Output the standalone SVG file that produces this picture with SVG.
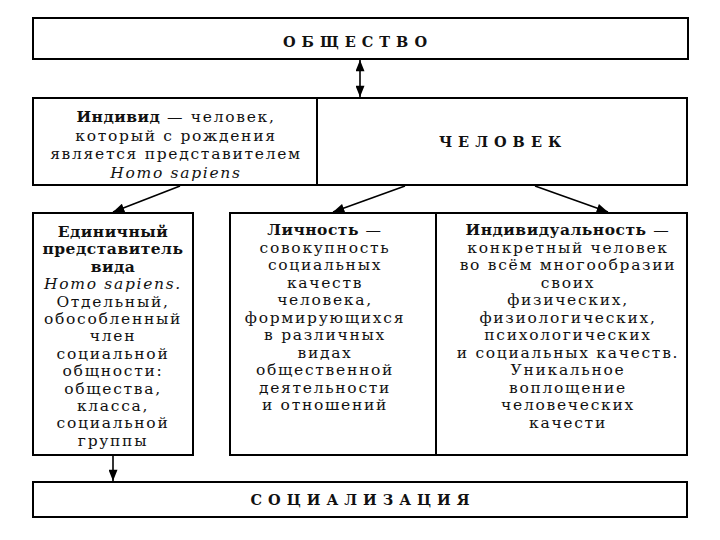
<svg xmlns="http://www.w3.org/2000/svg" width="720" height="540" viewBox="0 0 720 540">
<defs>
<marker id="ah" viewBox="0 0 10 8" refX="10" refY="4" markerWidth="12" markerHeight="9" markerUnits="userSpaceOnUse" orient="auto-start-reverse">
<path d="M0,0 L10,4 L0,8 Z" fill="#000"/>
</marker>
<style>
rect.box{fill:#fff;stroke:#000;stroke-width:2}
line.div{stroke:#000;stroke-width:2}
.conn line{stroke:#000;stroke-width:1.6;fill:none}
text{font-family:"DejaVu Serif","Liberation Serif",serif;font-size:15.5px;fill:#111;text-anchor:middle;letter-spacing:1.7px}
text.title{font-weight:bold;font-size:14.5px;letter-spacing:6px}
.b{font-weight:bold;letter-spacing:0.5px}
.i{font-style:italic}
</style>
</defs>
<rect width="720" height="540" fill="#fff"/>

<g id="obshchestvo">
<rect class="box" x="33" y="18" width="655" height="41"/>
<text class="title" x="358" y="46.5">ОБЩЕСТВО</text>
</g>

<g id="chelovek">
<rect class="box" x="33" y="98" width="654" height="87"/>
<line class="div" x1="317" y1="98" x2="317" y2="185"/>
<text class="title" x="503" y="147">ЧЕЛОВЕК</text>
</g>

<g id="individ">
<text x="176" y="122"><tspan class="b">Индивид</tspan> — человек,</text>
<text x="176" y="140.5">который с рождения</text>
<text x="176" y="159">является представителем</text>
<text x="176" y="177.5" class="i">Homo sapiens</text>
</g>

<g id="edinichnyi">
<rect class="box" x="33" y="213" width="160" height="242"/>
<text x="113" y="237" class="b">Единичный</text>
<text x="113" y="254.4" class="b">представитель</text>
<text x="113" y="271.8" class="b">вида</text>
<text x="113" y="289.2" class="i">Homo sapiens.</text>
<text x="113" y="306.6">Отдельный,</text>
<text x="113" y="324">обособленный</text>
<text x="113" y="341.4">член</text>
<text x="113" y="358.8">социальной</text>
<text x="113" y="376.2">общности:</text>
<text x="113" y="393.6">общества,</text>
<text x="113" y="411">класса,</text>
<text x="113" y="428.4">социальной</text>
<text x="113" y="445.8">группы</text>
</g>

<g id="lichnost">
<rect class="box" x="230" y="213" width="206" height="242"/>
<text x="325" y="235"><tspan class="b">Личность</tspan> —</text>
<text x="325" y="252.5">совокупность</text>
<text x="325" y="270">социальных</text>
<text x="325" y="287.5">качеств</text>
<text x="325" y="305">человека,</text>
<text x="325" y="322.5">формирующихся</text>
<text x="325" y="340">в различных</text>
<text x="325" y="357.5">видах</text>
<text x="325" y="375">общественной</text>
<text x="325" y="392.5">деятельности</text>
<text x="325" y="410">и отношений</text>
</g>

<g id="individualnost">
<rect class="box" x="436" y="213" width="251" height="242"/>
<text x="568" y="235"><tspan class="b">Индивидуальность</tspan> —</text>
<text x="568" y="252.5">конкретный человек</text>
<text x="568" y="270">во всём многообразии</text>
<text x="568" y="287.5">своих</text>
<text x="568" y="305">физических,</text>
<text x="568" y="322.5">физиологических,</text>
<text x="568" y="340">психологических</text>
<text x="568" y="357.5">и социальных качеств.</text>
<text x="568" y="375">Уникальное</text>
<text x="568" y="392.5">воплощение</text>
<text x="568" y="410">человеческих</text>
<text x="568" y="427.5">качести</text>
</g>

<g id="socializaciya">
<rect class="box" x="33" y="482" width="654" height="35"/>
<text class="title" x="363" y="505">СОЦИАЛИЗАЦИЯ</text>
</g>

<g id="connectors" class="conn">
<line x1="360" y1="60" x2="360" y2="97" marker-start="url(#ah)" marker-end="url(#ah)"/>
<line x1="180" y1="186" x2="113" y2="212" marker-end="url(#ah)"/>
<line x1="405" y1="186" x2="333" y2="212" marker-end="url(#ah)"/>
<line x1="535" y1="186" x2="608" y2="212" marker-end="url(#ah)"/>
<line x1="113" y1="456" x2="113" y2="481" marker-end="url(#ah)"/>
</g>
</svg>
